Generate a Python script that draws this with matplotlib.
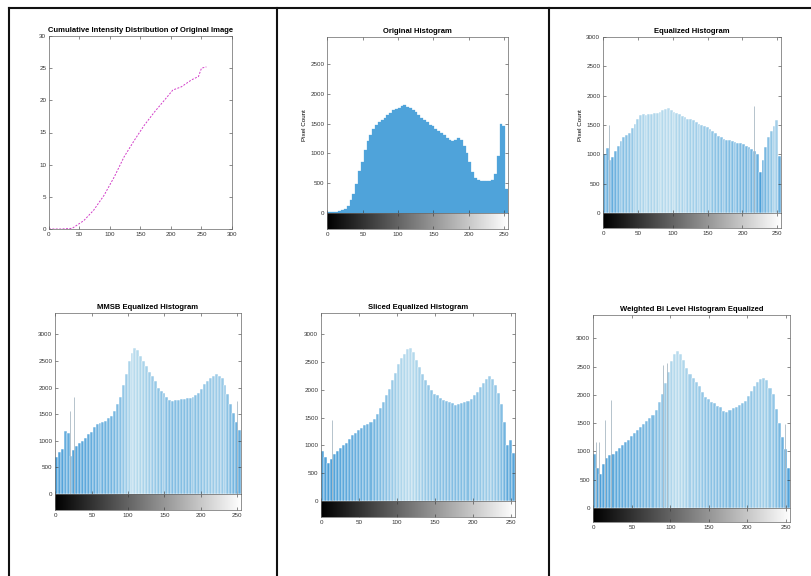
import numpy as np
import matplotlib
matplotlib.use("Agg")
import matplotlib.pyplot as plt
from matplotlib.lines import Line2D
from matplotlib.colors import to_rgb

plt.rcParams['font.family'] = ['Liberation Sans', 'DejaVu Sans']

# cumulative distribution of the original image (counts in units of 1e4)
cdf_levels = [0, 20, 38, 57, 73, 90, 107, 123, 140, 156, 173, 189, 203, 217, 234, 245, 250, 258]
cdf_values = [0, 0, 0.1, 1.3, 2.9, 5.2, 8.1, 11.2, 13.8, 16.1, 18.2, 20.0, 21.6, 22.1, 23.2, 23.7, 25.0, 25.2]

# histograms, 64 groups of 4 grey levels each (pixel counts)
orig_hist = [10, 15, 20, 25, 30, 45, 60, 120, 220, 320, 480, 700, 850, 1050, 1200, 1300,
             1400, 1470, 1530, 1560, 1590, 1650, 1680, 1720, 1740, 1760, 1790, 1810, 1780, 1760, 1720, 1690,
             1640, 1600, 1560, 1520, 1470, 1450, 1410, 1370, 1340, 1300, 1260, 1220, 1210, 1230, 1250, 1220,
             1130, 1000, 850, 680, 590, 550, 540, 535, 540, 530, 550, 650, 950, 1500, 1450, 400]
eq_hist = [1000, 1100, 900, 950, 1050, 1150, 1230, 1300, 1330, 1360, 1450, 1520, 1600, 1670, 1680, 1670,
           1680, 1690, 1700, 1710, 1730, 1750, 1780, 1790, 1760, 1730, 1710, 1680, 1660, 1630, 1610, 1600,
           1590, 1560, 1520, 1500, 1480, 1470, 1430, 1400, 1360, 1320, 1300, 1270, 1250, 1240, 1225, 1215,
           1200, 1190, 1170, 1140, 1120, 1090, 1060, 1000, 700, 900, 1130, 1300, 1400, 1480, 1580, 980]
mmsb_hist = [700, 780, 850, 1180, 1150, 720, 830, 900, 950, 1000, 1050, 1120, 1170, 1250, 1320, 1340,
             1355, 1370, 1420, 1460, 1550, 1700, 1830, 2050, 2250, 2500, 2650, 2750, 2700, 2600, 2500, 2400,
             2300, 2220, 2120, 2000, 1940, 1900, 1830, 1760, 1740, 1760, 1770, 1780, 1790, 1800, 1800, 1820,
             1860, 1900, 1980, 2060, 2130, 2170, 2210, 2250, 2220, 2170, 2050, 1880, 1700, 1520, 1350, 1200]
sliced_hist = [900, 800, 680, 750, 850, 900, 950, 1000, 1040, 1110, 1180, 1230, 1270, 1310, 1360, 1390,
               1420, 1470, 1570, 1680, 1790, 1900, 2020, 2170, 2300, 2470, 2580, 2650, 2740, 2760, 2680, 2540,
               2410, 2290, 2170, 2080, 2000, 1930, 1900, 1850, 1820, 1800, 1790, 1760, 1730, 1740, 1760, 1780,
               1800, 1830, 1900, 1960, 2050, 2120, 2200, 2250, 2200, 2080, 1950, 1750, 1420, 1000, 1100, 870]
wbl_hist = [950, 700, 600, 780, 880, 930, 960, 1010, 1060, 1110, 1160, 1210, 1270, 1320, 1380, 1430,
            1480, 1540, 1590, 1650, 1740, 1880, 2020, 2200, 2400, 2600, 2720, 2780, 2720, 2620, 2480, 2360,
            2290, 2220, 2150, 2050, 1960, 1920, 1880, 1850, 1810, 1780, 1720, 1700, 1730, 1760, 1790, 1820,
            1860, 1890, 1980, 2060, 2160, 2230, 2280, 2290, 2260, 2120, 2020, 1750, 1500, 1260, 1050, 700]

# isolated tall bins (level, count)
eq_spikes = [(8, 1500), (216, 1820)]
mmsb_spikes = [(20, 1550), (26, 1830), (250, 1740)]
sliced_spikes = [(14, 1460)]
wbl_spikes = [(3, 1170), (7, 1170), (15, 1550), (23, 1900), (90, 2520), (96, 2560), (249, 1490)]

titles = ['Cumulative Intensity Distribution of Original Image', 'Original Histogram',
          'Equalized Histogram', 'MMSB Equalized Histogram', 'Sliced Equalized Histogram',
          'Weighted Bi Level Histogram Equalized']

W, H = 812, 576
fig = plt.figure(figsize=(W / 100, H / 100), dpi=100)


def box(x0, y0, x1, y1):
    # pixel box (top-left origin) -> figure fraction
    return [x0 / W, 1 - y1 / H, (x1 - x0) / W, (y1 - y0) / H]


def style(ax):
    ax.tick_params(direction='in', length=2, width=0.4, labelsize=4.5, pad=2,
                   top=True, right=True, colors='#333333')
    for s in ax.spines.values():
        s.set_linewidth(0.5)
        s.set_color('#666666')


def shade(vals, light, dark):
    v = np.asarray(vals, float)
    t = (v - v.min()) / (v.max() - v.min())
    a, b = np.array(to_rgb(dark)), np.array(to_rgb(light))
    return [tuple(a + (b - a) * k) for k in t]


def histpanel(px, cb_bottom, values, spikes, title, ymax, ylabel=False, equalized=True):
    x0, y0, x1, y1 = px
    ax = fig.add_axes(box(x0, y0, x1, y1))
    levels = np.arange(len(values)) * 4 + 1.5
    if equalized:
        cols = shade(values, '#b8dbed', '#4c9fd8')
        ax.bar(levels, values, width=4, color=cols, edgecolor='white', linewidth=0.35)
    else:
        ax.bar(levels, values, width=4, color='#4fa3da', edgecolor='#4fa3da', linewidth=0.2)
    for lv, c in spikes:
        ax.vlines(lv, 0, c, color='#a9b9c4', linewidth=0.6)
    ax.set_xlim(-0.5, 255.5)
    ax.set_ylim(0, ymax)
    ax.set_yticks(np.arange(0, ymax, 500))
    ax.set_xticks(np.arange(0, 256, 50))
    ax.set_xticklabels([])
    style(ax)
    ax.set_title(title, fontsize=5.5, fontweight='bold', pad=3)
    if ylabel:
        ax.set_ylabel('Pixel Count', fontsize=4.5, labelpad=2)
    cb = fig.add_axes(box(x0, y1, x1, cb_bottom))
    cb.imshow(np.linspace(0, 1, 256)[None, :], cmap='gray', aspect='auto',
              extent=[-0.5, 255.5, 0, 1])
    cb.set_yticks([])
    cb.set_xticks(np.arange(0, 256, 50))
    style(cb)
    cb.tick_params(right=False, top=True)


# panel 1: cumulative curve
ax1 = fig.add_axes(box(49, 36, 232, 229))
ax1.plot(cdf_levels, cdf_values, color='#d23cc8', linestyle=(0, (2, 1.5)), linewidth=0.7)
ax1.set_xlim(0, 300)
ax1.set_ylim(0, 30)
ax1.set_xticks(np.arange(0, 301, 50))
ax1.set_yticks(np.arange(0, 31, 5))
style(ax1)
ax1.set_title(titles[0], fontsize=5.5, fontweight='bold', pad=3)

histpanel((327, 37, 508, 213), 229, orig_hist, [], titles[1], 2950, ylabel=True, equalized=False)
histpanel((603, 37, 781, 213), 228, eq_hist, eq_spikes, titles[2], 3001, ylabel=True)
histpanel((55, 313, 241, 494), 510, mmsb_hist, mmsb_spikes, titles[3], 3400)
histpanel((321, 313, 515, 501), 517, sliced_hist, sliced_spikes, titles[4], 3385)
histpanel((593, 315, 790, 508), 522, wbl_hist, wbl_spikes, titles[5], 3410)

# table borders
for xs, ys in [((9, 812), (8, 8)), ((9, 9), (8, 576)), ((277, 277), (8, 576)), ((549, 549), (8, 576))]:
    fig.add_artist(Line2D([x / W for x in xs], [1 - y / H for y in ys],
                          transform=fig.transFigure, color='#111111', linewidth=1.5))

fig.savefig('out.png', dpi=100)
